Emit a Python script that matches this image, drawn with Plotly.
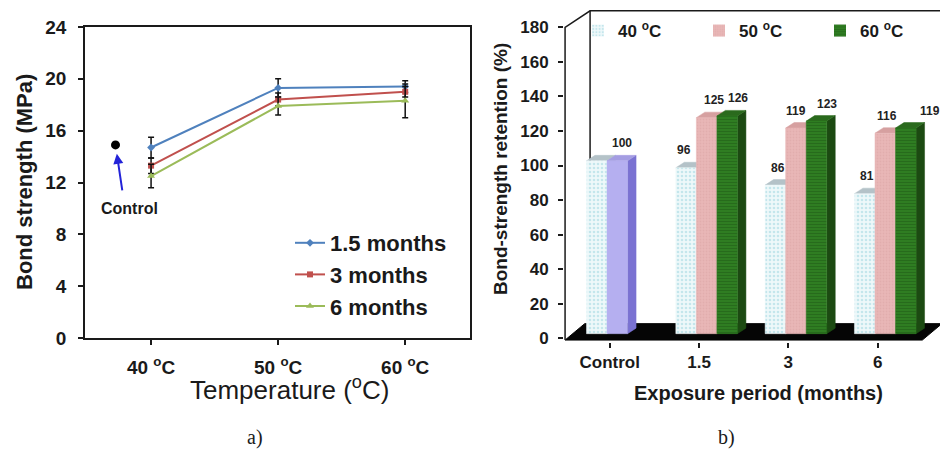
import plotly.graph_objects as go

SANS = "Liberation Sans"
SERIF = "Liberation Serif"
INK = "#1a1a1a"

# ---------------- panel a: bond strength against exposure temperature ----------------
temp_pos = [1, 2, 3]
temp_ticks = ["40 <sup>o</sup>C", "50 <sup>o</sup>C", "60 <sup>o</sup>C"]
duration_names = ["1.5 months", "3 months", "6 months"]
bond_15 = [14.7, 19.3, 19.4]
bond_3 = [13.3, 18.4, 19.0]
bond_6 = [12.5, 17.9, 18.3]
sd_15 = [0.8, 0.7, 0.45]
sd_3 = [0.6, 0.5, 0.4]
sd_6 = [0.9, 0.7, 1.3]
control_pos = 0.72
control_bond = 14.9

# ---------------- panel b: bond-strength retention ----------------
period_ticks = ["Control", "1.5", "3", "6"]
retention_40 = [100, 96, 86, 81]
retention_50 = [None, 125, 119, 116]
retention_60 = [None, 126, 123, 119]
retention_control = 100

# pseudo-3D geometry of the column chart (axis units)
BAR_W = 0.23      # width of one column
SHIFT_X = 0.085   # columns sit part-way into the floor depth
BASE_Y = 2.7
DX, DY = 0.095, 3.2          # column depth
WALL_DX, WALL_DY = 0.28, 9.5  # back wall offset
FLOOR_DX = 0.22

fig = go.Figure()

# ---- panel a traces ----
line_styles = [
    (bond_15, sd_15, "#4F81BD", "diamond", 6),
    (bond_3, sd_3, "#C0504D", "square", 6),
    (bond_6, sd_6, "#9BBB59", "triangle-up", 7),
]
for name, (vals, sds, col, sym, msize) in zip(duration_names, line_styles):
    fig.add_trace(go.Scatter(
        x=temp_pos, y=vals, name=name, mode="lines+markers",
        line=dict(color=col, width=2),
        marker=dict(color=col, symbol=sym, size=msize),
        error_y=dict(type="data", array=sds, color="#111111", thickness=1.5, width=3),
        xaxis="x", yaxis="y", legend="legend", legendgroup=name,
    ))

fig.add_trace(go.Scatter(
    x=[control_pos], y=[control_bond], mode="markers", showlegend=False,
    marker=dict(color="black", size=9), xaxis="x", yaxis="y",
))


# ---- panel b: floor and walls ----
fig.add_trace(go.Scatter(
    x=[-0.5, 3.5, 3.5 + FLOOR_DX, -0.5 + FLOOR_DX, -0.5],
    y=[-1, -1, -1 + WALL_DY, -1 + WALL_DY, -1],
    fill="toself", fillcolor="#050505", mode="lines",
    line=dict(color="#050505", width=1), showlegend=False, hoverinfo="skip",
    xaxis="x2", yaxis="y2",
))
fig.add_trace(go.Scatter(
    x=[-0.5, -0.5, -0.5 + WALL_DX, 4.5, None, -0.5 + WALL_DX, -0.5 + WALL_DX],
    y=[-1, 180, 180 + WALL_DY, 180 + WALL_DY, None, 180 + WALL_DY, -1 + WALL_DY],
    mode="lines", line=dict(color=INK, width=1.5), showlegend=False,
    hoverinfo="skip", xaxis="x2", yaxis="y2",
))


def box_faces(cat, slot, value):
    xc = cat + SHIFT_X + (slot - 1) * BAR_W
    x0, x1 = xc - BAR_W / 2, xc + BAR_W / 2
    yb, yt = BASE_Y, value + BASE_Y
    front = ([x0, x1, x1, x0, x0], [yb, yb, yt, yt, yb])
    side = ([x1, x1 + DX, x1 + DX, x1, x1], [yb, yb + DY, yt + DY, yt, yb])
    top = ([x0, x1, x1 + DX, x0 + DX, x0], [yt, yt, yt + DY, yt + DY, yt])
    return xc, yt, front, side, top


def add_columns(items, slot, front_style, side_col, top_col):
    """items: list of (category index, value) drawn as boxes in one slot."""
    faces = {"side": ([], []), "top": ([], []), "front": ([], [])}
    for cat, v in items:
        _, _, front, side, top = box_faces(cat, slot, v)
        for key, poly in (("side", side), ("top", top), ("front", front)):
            faces[key][0].extend(poly[0] + [None])
            faces[key][1].extend(poly[1] + [None])
    for key, col in (("side", side_col), ("top", top_col)):
        fig.add_trace(go.Scatter(
            x=faces[key][0], y=faces[key][1], fill="toself", fillcolor=col,
            mode="lines", line=dict(color=col, width=0.5), showlegend=False,
            hoverinfo="skip", xaxis="x2", yaxis="y2",
        ))
    bg, fg, shape, size, solid = front_style
    fig.add_trace(go.Scatter(
        x=faces["front"][0], y=faces["front"][1], fill="toself", fillcolor=bg,
        fillpattern=dict(shape=shape, fgcolor=fg, bgcolor=bg, size=size, solidity=solid),
        mode="lines", line=dict(color=bg, width=0.5), showlegend=False,
        hoverinfo="skip", xaxis="x2", yaxis="y2",
    ))


style_40 = ("#eef8fa", "#9ad3dd", ".", 4, 0.35)
style_50 = ("#e8b7b7", "#d9a3a3", ".", 3, 0.3)
style_60 = ("#2f7d22", "#1f5916", "-", 3, 0.35)
style_ctrl = ("#b5aff0", "#a59ee6", "", 4, 0.2)

add_columns([(i, v) for i, v in enumerate(retention_40) if v is not None], 0,
            style_40, "#c9d9de", "#b4c2c8")
add_columns([(0, retention_control)], 1, style_ctrl, "#7a72d2", "#a49de2")
add_columns([(i, v) for i, v in enumerate(retention_50) if v is not None], 1,
            style_50, "#c99090", "#d6a0a0")
add_columns([(i, v) for i, v in enumerate(retention_60) if v is not None], 2,
            style_60, "#1c4a12", "#2a6a1d")

# legend entries for the column series
for name, (bg, fg, shape, size, solid) in zip(
        ["40 <sup>o</sup>C", "50 <sup>o</sup>C", "60 <sup>o</sup>C"],
        [style_40, style_50, style_60]):
    fig.add_trace(go.Bar(
        x=[None], y=[None], name=name,
        marker=dict(color=bg, line=dict(width=0),
                    pattern=dict(shape=shape, fgcolor=fg, bgcolor=bg, size=size, solidity=solid)),
        xaxis="x2", yaxis="y2", legend="legend2",
    ))

# value labels above columns
annotations = []
label_font = dict(family=SANS, size=12, color="#222222", weight="bold")
label_sets = [
    (retention_40, 0, [None, -6, -2, -2]),
    ([retention_control, None, None, None], 1, [0, 0, 0, 0]),
    (retention_50, 1, [0, 3, -4, -2]),
    (retention_60, 2, [0, 7, 6, 20]),
]
for vals, slot, nudges in label_sets:
    for cat, v in enumerate(vals):
        if v is None or nudges[cat] is None:
            continue
        xc, yt, *_ = box_faces(cat, slot, v)
        annotations.append(dict(
            x=xc + DX / 2, y=yt + DY, xref="x2", yref="y2", text=str(v),
            showarrow=False, xanchor="center", yanchor="bottom", yshift=3,
            xshift=nudges[cat], font=label_font,
        ))

# control marker arrow and caption
annotations.append(dict(
    x=control_pos, y=control_bond, xref="x", yref="y", text="", showarrow=True,
    ax=7, ay=47, arrowhead=2, arrowsize=1, arrowwidth=2, arrowcolor="#2323d8",
    standoff=9,
))


def paper_text(px, py, text, font, angle=0):
    return dict(x=px / 940, y=1 - py / 451, xref="paper", yref="paper",
                xanchor="center", yanchor="middle", text=text, textangle=angle,
                showarrow=False, font=font)


annotations += [
    paper_text(129, 209, "Control", dict(family=SANS, size=16, color=INK, weight="bold")),
    paper_text(24, 182, "Bond strength (MPa)",
               dict(family=SANS, size=22, color=INK, weight="bold"), -90),
    paper_text(289, 388, "Temperature (<sup>o</sup>C)",
               dict(family=SANS, size=26, color=INK)),
    paper_text(500, 169, "Bond-strength retention (%)",
               dict(family=SANS, size=19, color=INK, weight="bold"), -90),
    paper_text(758, 393, "Exposure period (months)",
               dict(family=SANS, size=20, color=INK, weight="bold")),
    paper_text(255, 437, "a)", dict(family=SERIF, size=20, color=INK)),
    paper_text(726, 437, "b)", dict(family=SERIF, size=20, color=INK)),
]

tick_font = dict(family=SANS, size=17, color=INK, weight="bold")

fig.update_layout(
    width=940, height=451,
    margin=dict(l=0, r=0, t=0, b=0, autoexpand=False),
    paper_bgcolor="white", plot_bgcolor="rgba(0,0,0,0)",
    font=dict(family=SANS, color=INK),
    showlegend=True,
    xaxis=dict(
        domain=[85 / 940, 470 / 940], range=[0.48, 3.51],
        tickvals=temp_pos, ticktext=temp_ticks,
        tickfont=dict(family=SANS, size=19, color=INK, weight="bold"),
        ticks="outside", ticklen=5, tickcolor=INK, tickwidth=1.5,
        ticklabelstandoff=6,
        showline=True, mirror=True, linecolor=INK, linewidth=1.5,
        showgrid=False, zeroline=False, anchor="y",
    ),
    yaxis=dict(
        domain=[1 - 338 / 451, 1 - 27 / 451], range=[0, 24], dtick=4,
        tickfont=dict(family=SANS, size=19, color=INK, weight="bold"),
        ticks="outside", ticklen=5, tickcolor=INK, tickwidth=1.5,
        ticklabelstandoff=8,
        showline=True, mirror=True, linecolor=INK, linewidth=1.5,
        showgrid=False, zeroline=False, anchor="x",
    ),
    xaxis2=dict(
        domain=[564 / 940, 1.0], range=[-0.512, 3.698],
        tickvals=[0, 1, 2, 3], ticktext=period_ticks, tickfont=tick_font,
        ticks="outside", ticklen=5, tickcolor=INK, tickwidth=1.5,
        showline=False, showgrid=False, zeroline=False, anchor="y2",
    ),
    yaxis2=dict(
        domain=[1 - 341.8 / 451, 1 - 10 / 451], range=[-2, 190],
        tickvals=list(range(0, 181, 20)), tickfont=tick_font,
        ticks="outside", ticklen=5, tickcolor=INK, tickwidth=1.5,
        ticklabelstandoff=6,
        showline=False, showgrid=False, zeroline=False, anchor="x2",
    ),
    legend=dict(
        x=290 / 940, y=1 - 222 / 451, xanchor="left", yanchor="top",
        font=dict(family=SANS, size=22, color=INK, weight="bold"),
        bgcolor="rgba(0,0,0,0)", itemwidth=30, traceorder="normal",
        tracegroupgap=0,
    ),
    legend2=dict(
        x=578 / 940, y=1 - 13 / 451, xanchor="left", yanchor="top",
        orientation="h", entrywidth=76, entrywidthmode="pixels",
        font=dict(family=SANS, size=17, color=INK, weight="bold"),
        bgcolor="rgba(0,0,0,0)", itemwidth=30,
    ),
    annotations=annotations,
)

fig.write_html("out.html")
